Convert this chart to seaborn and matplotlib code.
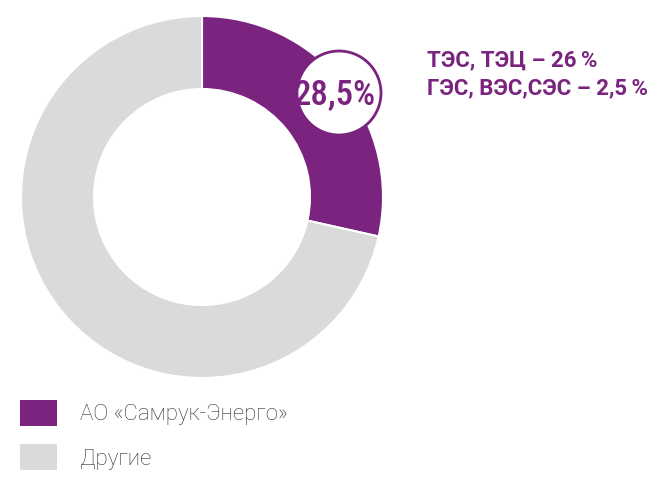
import matplotlib
matplotlib.use("Agg")
import matplotlib.pyplot as plt
import seaborn as sns
from matplotlib.patches import Circle, Patch

# data
labels = ["АО «Самрук-Энерго»", "Другие"]
shares = [28.5, 71.5]
share_label = "28,5%"
detail_lines = ["ТЭС, ТЭЦ – 26\u2009%", "ГЭС, ВЭС,СЭС – 2,5\u2009%"]

sns.set_theme(style="white")
plt.rcParams["font.family"] = ["Roboto", "DejaVu Sans"]

purple = "#7a237f"
grey = "#d9dbda"
colors = [purple, grey]

W, H = 665, 479
fig = plt.figure(figsize=(W / 100, H / 100), dpi=100)
ax = fig.add_axes([0, 0, 1, 1])

# donut
cx, cy, r = 202, H - 197, 181
ax.pie(shares, colors=colors, startangle=90, counterclock=False,
       center=(cx, cy), radius=r, frame=True,
       wedgeprops=dict(width=73, edgecolor="white", linewidth=1.5))
ax.set_xlim(0, W)
ax.set_ylim(0, H)
ax.set_aspect("equal")
ax.axis("off")

# value bubble
ax.add_patch(Circle((339, H - 93), 42, facecolor="white", edgecolor=purple,
                    linewidth=2, zorder=5))
ax.text(335, H - 95, share_label, color=purple, fontsize=25,
        family=["Roboto Condensed", "Liberation Sans Narrow", "Roboto"],
        fontweight="medium", ha="center", va="center", zorder=6)

# breakdown text
for i, line in enumerate(detail_lines):
    ax.text(427, H - 60 - i * 28.5, line, color=purple, fontsize=16,
            fontweight="bold", ha="left", va="center")

# legend
handles = [Patch(facecolor=c, edgecolor="none") for c in colors]
leg = fig.legend(handles, labels, loc="upper left",
                 bbox_to_anchor=(20 / W, 1 - 400 / H),
                 frameon=False, fontsize=16, handlelength=1.67, handleheight=1.44,
                 handletextpad=1.05, labelspacing=0.8, borderpad=0, borderaxespad=0,
                 labelcolor="#333333")
for t in leg.get_texts():
    t.set_fontweight("light")

fig.savefig("out.png", dpi=100)
